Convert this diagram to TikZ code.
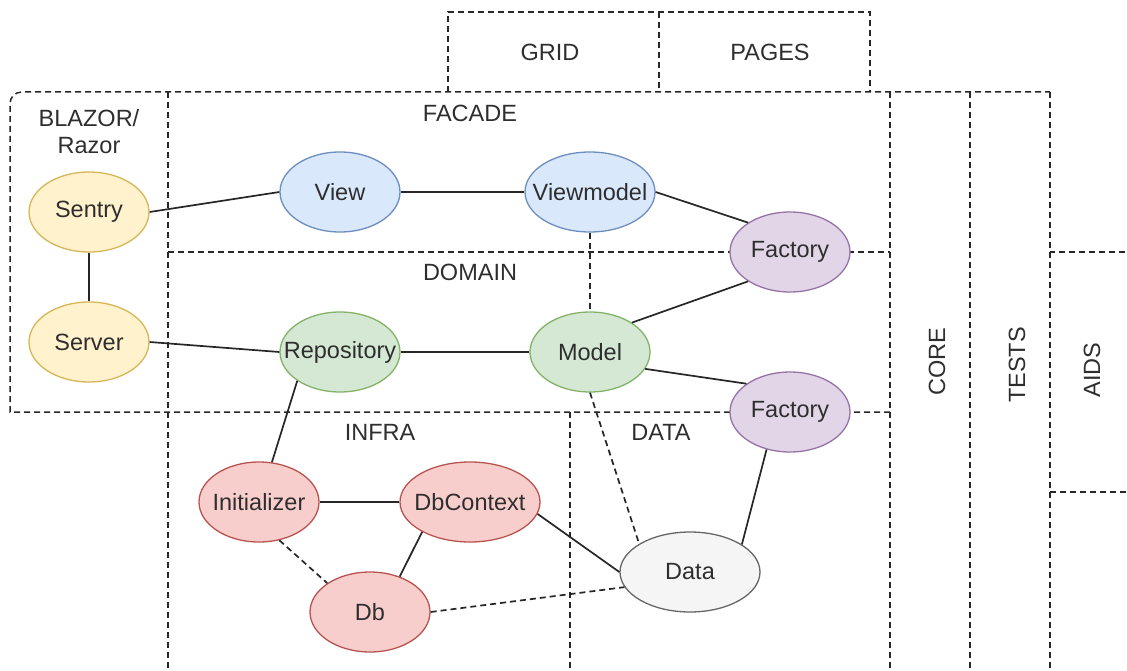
\documentclass[tikz,border=0pt]{standalone}
\usepackage{fontspec}
\setmainfont{Liberation Sans}
\usetikzlibrary{shapes.geometric}
\definecolor{yelF}{HTML}{FFF2CC}\definecolor{yelD}{HTML}{D6B656}
\definecolor{bluF}{HTML}{DAE8FC}\definecolor{bluD}{HTML}{6C8EBF}
\definecolor{grnF}{HTML}{D5E8D4}\definecolor{grnD}{HTML}{82B366}
\definecolor{purF}{HTML}{E1D5E7}\definecolor{purD}{HTML}{9673A6}
\definecolor{redF}{HTML}{F8CECC}\definecolor{redD}{HTML}{B85450}
\definecolor{gryF}{HTML}{F5F5F5}\definecolor{gryD}{HTML}{666666}
\definecolor{txt}{HTML}{2E2E2E}
% a label that does not widen its ellipse
\newcommand\inside[1]{\makebox[0pt]{#1}}
\begin{document}
\begin{tikzpicture}[x=1pt,y=-1pt,
  zone/.style={draw=black!85, line width=1.5pt, dash pattern=on 6pt off 4pt},
  bubble/.style={ellipse, line width=1.3pt, minimum width=120pt, minimum height=80pt,
    inner sep=0pt, font=\fontsize{23.5}{28}\selectfont, text=txt},
  yel/.style={bubble, fill=yelF, draw=yelD},
  blu/.style={bubble, fill=bluF, draw=bluD},
  grn/.style={bubble, fill=grnF, draw=grnD},
  pur/.style={bubble, fill=purF, draw=purD},
  red/.style={bubble, fill=redF, draw=redD},
  gry/.style={bubble, fill=gryF, draw=gryD},
  lbl/.style={font=\fontsize{23.5}{27}\selectfont, text=txt, align=center},
  link/.style={draw=black!85, line width=1.7pt},
  dlink/.style={link, dash pattern=on 6pt off 4pt}]
\useasboundingbox (0,0) rectangle (1127,671);

% layer boundaries
\begin{scope}
\clip (0,0) rectangle (1127,671);
\draw[zone] (448,92) -- (448,12) -- (870,12) -- (870,92);
\draw[zone] (659,12) -- (659,92);
\draw[zone] (890,412) -- (10,412) -- (10,104) .. controls (10,97) and (15,92) .. (22,92) -- (1050,92);
\draw[zone] (168,92) -- (168,680);
\draw[zone] (168,252) -- (890,252);
\draw[zone] (570,412) -- (570,680);
\draw[zone] (890,92) -- (890,680);
\draw[zone] (970,92) -- (970,680);
\draw[zone] (1050,92) -- (1050,680);
\draw[zone] (1135,252) -- (1050,252);
\draw[zone] (1050,492) -- (1135,492);
\end{scope}

% layer names
\node[lbl] (grid) at (550,52) {GRID};
\node[lbl] (pages) at (770,52) {PAGES};
\node[lbl] (blazor) at (89,132) {BLAZOR/\\Razor};
\node[lbl] (facade) at (470,113) {FACADE};
\node[lbl] (domain) at (470,272) {DOMAIN};
\node[lbl] (infra) at (380,432) {INFRA};
\node[lbl] (data) at (661,432) {DATA};
\node[lbl, rotate=90] (core) at (937,362) {CORE};
\node[lbl, rotate=90] (tests) at (1017,365) {TESTS};
\node[lbl, rotate=90] (aids) at (1092,370) {AIDS};

% components
\node[yel] (sentry) at (89,212) {\inside{Sentry}};
\node[yel] (server) at (89,342) {\inside{Server}};
\node[blu] (view) at (340,192) {\inside{View}};
\node[blu, minimum width=130pt] (viewmodel) at (590,192) {\inside{Viewmodel}};
\node[pur] (factoryA) at (790,252) {\inside{Factory}};
\node[grn] (repository) at (340,352) {\inside{Repository}};
\node[grn] (model) at (590,352) {\inside{Model}};
\node[pur] (factoryB) at (790,412) {\inside{Factory}};
\node[red] (initializer) at (259,502) {\inside{Initializer}};
\node[red, minimum width=140pt] (dbcontext) at (470,502) {\inside{DbContext}};
\node[red] (db) at (370,612) {\inside{Db}};
\node[gry, minimum width=140pt] (dataobj) at (690,572) {\inside{Data}};

% dependencies
\draw[link] (sentry.east) -- (view.west);
\draw[link] (view.east) -- (viewmodel.west);
\draw[link] (viewmodel.east) -- (factoryA.145);
\draw[link] (sentry.south) -- (server.north);
\draw[link] (server.east) -- (repository.west);
\draw[link] (repository.east) -- (model.west);
\draw[link] (model.35) -- (factoryA.215);
\draw[link] (model.-17) -- (factoryB.147);
\draw[link] (repository.214) -- (initializer.72);
\draw[link] (initializer.east) -- (dbcontext.west);
\draw[link] (dbcontext.212) -- (db.50);
\draw[link] (dbcontext.-10) -- (dataobj.west);
\draw[link] (factoryB.238) -- (dataobj.28);
\draw[dlink] (viewmodel.south) -- (model.north);
\draw[dlink] (model.south) -- (dataobj.151);
\draw[dlink] (initializer.-62) -- (db.146);
\draw[dlink] (db.east) -- (dataobj.193);
\end{tikzpicture}
\end{document}
